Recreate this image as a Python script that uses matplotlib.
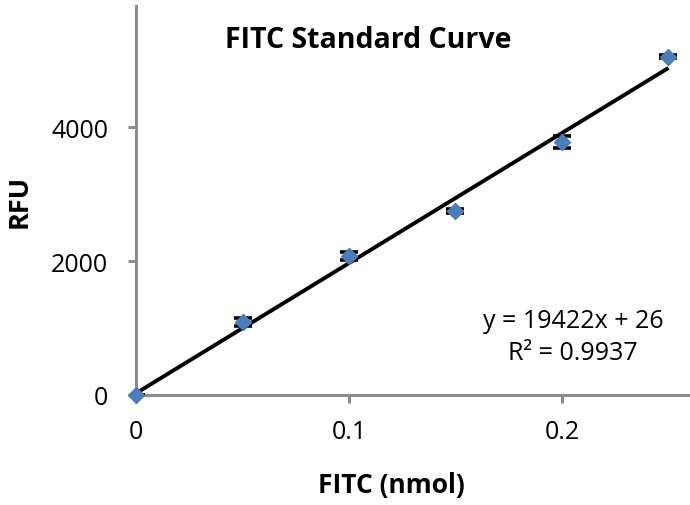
import matplotlib
matplotlib.use("Agg")
import matplotlib.pyplot as plt
import numpy as np

# Data
fitc_nmol = [0.0, 0.05, 0.10, 0.15, 0.20, 0.25]
rfu = [0, 1095, 2070, 2745, 3775, 5050]
rfu_err = [0, 60, 60, 30, 90, 25]
slope = 19422
intercept = 26
r_squared = 0.9937
x_ticks = [0, 0.1, 0.2]
x_tick_labels = ["0", "0.1", "0.2"]
y_ticks = [0, 2000, 4000]
y_tick_labels = ["0", "2000", "4000"]

plt.rcParams['font.family'] = ['Open Sans', 'DejaVu Sans']

fig = plt.figure(figsize=(6.9, 5.06), dpi=100)
ax = fig.add_axes([136/690, 110/506, 554/690, 389/506])

blue = '#4a7ebb'
spine_col = '#8c8c8c'

# trendline
tx = np.array([0.0, 0.25])
ax.plot(tx, slope * tx + intercept, color='black', lw=2.8, zorder=2, solid_capstyle='butt')

ax.errorbar(fitc_nmol, rfu, yerr=rfu_err, fmt='none', ecolor='black',
            elinewidth=2.2, capsize=6.5, capthick=2.6, zorder=3)
ax.plot(fitc_nmol, rfu, linestyle='none', marker='D', markersize=8.5,
        color=blue, markeredgecolor=blue, zorder=4, clip_on=False)

ax.set_xlim(0, 554/2130)
ax.set_ylim(0, 389 * 2000 / 134)

for s in ['top', 'right']:
    ax.spines[s].set_visible(False)
for s in ['left', 'bottom']:
    ax.spines[s].set_color(spine_col)
    ax.spines[s].set_linewidth(2.2)

ax.set_xticks(x_ticks)
ax.set_xticklabels(x_tick_labels)
ax.set_yticks(y_ticks)
ax.set_yticklabels(y_tick_labels)
ax.tick_params(axis='both', direction='out', length=6, width=2.2, color=spine_col,
               labelsize=18, labelcolor='black')
ax.tick_params(axis='x', pad=11)
ax.tick_params(axis='y', pad=14)

fig.text(368/690, 1 - 40/506, "FITC Standard Curve", ha='center', va='center',
         fontsize=20.5, fontweight='bold')
fig.text(391/690, 1 - 486/506, "FITC (nmol)", ha='center', va='center',
         fontsize=19, fontweight='bold')
fig.text(20/690, 1 - 201/506, "RFU", ha='center', va='center', rotation=90,
         fontsize=19.5, fontweight='bold')

fig.text(573/690, 1 - 322/506, f"y = {slope}x + {intercept}", ha='center', va='center',
         fontsize=18)
fig.text(573/690, 1 - 354/506, f"R² = {r_squared}", ha='center', va='center',
         fontsize=18)

fig.savefig("out.png", dpi=100)
